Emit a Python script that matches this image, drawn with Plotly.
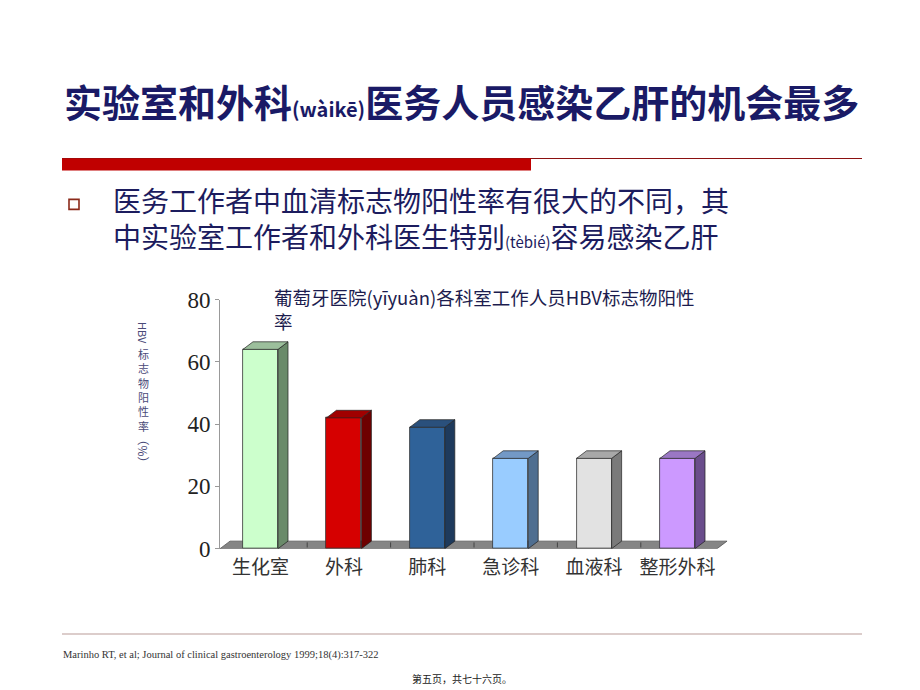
import plotly.graph_objects as go

# ---- data ----
categories = ["生化室", "外科", "肺科", "急诊科", "血液科", "整形外科"]
values = [64, 42, 39, 29, 29, 29]
front_colors = ["#CCFFCC", "#D60000", "#2F6299", "#99CCFF", "#E2E2E2", "#CC99FF"]
side_colors = ["#6A8A6A", "#6E0000", "#1E3A5C", "#4F6E90", "#7A7A7A", "#6A4D8C"]
top_colors = ["#9CBF9C", "#A00000", "#2A507C", "#7399C6", "#A8A8A8", "#9A77C4"]
y_ticks = [0, 20, 40, 60, 80]

W, H = 920, 690
def px(x):
    return x / W
def py(y):
    yy = (y - 10) / 0.967
    return 1 - yy / H

BAR_W = 0.42
DX = 0.12   # depth offset in category units
DY = 2.43   # depth offset in value units

fig = go.Figure()

# front faces
fig.add_trace(go.Bar(
    x=list(range(len(categories))), y=values, width=BAR_W,
    marker=dict(color=front_colors, line=dict(color="#333333", width=0.8)),
    showlegend=False, hoverinfo="skip"))

# side and top faces
for i, v in enumerate(values):
    r = i + BAR_W / 2
    l = i - BAR_W / 2
    fig.add_trace(go.Scatter(
        x=[r, r + DX, r + DX, r, r], y=[0, DY, v + DY, v, 0],
        fill="toself", fillcolor=side_colors[i], mode="lines",
        line=dict(color="#222222", width=0.7), showlegend=False, hoverinfo="skip"))
    fig.add_trace(go.Scatter(
        x=[l, l + DX, r + DX, r, l], y=[v, v + DY, v + DY, v, v],
        fill="toself", fillcolor=top_colors[i], mode="lines",
        line=dict(color="#222222", width=0.7), showlegend=False, hoverinfo="skip"))

x0 = -0.4856
x1 = 5.474
shapes = []
# floor
shapes.append(dict(type="path", xref="x", yref="y", layer="below",
                   path=f"M {x0},0 L {x1},0 L {x1+DX},{DY} L {x0+DX},{DY} Z",
                   fillcolor="#858585", line=dict(color="#555555", width=0.8)))
for k in range(len(categories) - 1):
    xm = k + 0.5 + DX / 2
    shapes.append(dict(type="line", xref="x", yref="y", layer="below",
                       x0=xm, x1=xm, y0=0.4, y1=DY - 0.4,
                       line=dict(color="#444444", width=1)))
# decorative slide elements
shapes.append(dict(type="line", xref="paper", yref="paper",
                   x0=px(62), x1=px(862), y0=py(157), y1=py(157),
                   line=dict(color="#8B1010", width=1)))
shapes.append(dict(type="rect", xref="paper", yref="paper",
                   x0=px(62), x1=px(531), y0=py(157), y1=py(169),
                   fillcolor="#C00000", line=dict(width=0)))
shapes.append(dict(type="line", xref="paper", yref="paper",
                   x0=px(62), x1=px(862), y0=py(634), y1=py(634),
                   line=dict(color="#DCCDCB", width=2)))
shapes.append(dict(type="rect", xref="paper", yref="paper",
                   x0=px(69), x1=px(79), y0=py(198), y1=py(208),
                   fillcolor="white", line=dict(color="#8B2A1A", width=1.6)))

navy = "#1A1A66"
annotations = [
    dict(text="实验室和外科<span style='font-size:20px'>(wàikē)</span>医务人员感染乙肝的机会最多",
         x=px(461), y=py(99), xref="paper", yref="paper", showarrow=False,
         xanchor="center", yanchor="middle",
         font=dict(family="Noto Sans CJK SC", size=38, color=navy, weight="bold")),
    dict(text="医务工作者中血清标志物阳性率有很大的不同，其<br>"
              "中实验室工作者和外科医生特别<span style='font-size:15px'>(tèbié)</span>容易感染乙肝",
         x=px(111), y=py(217), xref="paper", yref="paper", showarrow=False,
         xanchor="left", yanchor="middle", align="left",
         font=dict(family="Noto Sans CJK SC", size=28, color="#1C1C5E")),
    dict(text="葡萄牙医院(yīyuàn)各科室工作人员HBV标志物阳性<br>率",
         x=px(272), y=py(281), xref="paper", yref="paper", showarrow=False,
         xanchor="left", yanchor="top", align="left",
         font=dict(family="Noto Sans CJK SC", size=18.5, color="#1C1C4E")),
    dict(text="HBV", x=px(143), y=py(332), xref="paper", yref="paper", showarrow=False,
         textangle=90, xanchor="center", yanchor="middle",
         font=dict(family="Noto Sans CJK SC", size=11, color="#4A4A78")),
    dict(text="标<br>志<br>物<br>阳<br>性<br>率", x=px(143), y=py(389), xref="paper", yref="paper",
         showarrow=False, xanchor="center", yanchor="middle",
         font=dict(family="Noto Sans CJK SC", size=11, color="#4A4A78")),
    dict(text="（%）", x=px(143), y=py(450), xref="paper", yref="paper", showarrow=False,
         textangle=90, xanchor="center", yanchor="middle",
         font=dict(family="Noto Sans CJK SC", size=12, color="#4A4A78")),
    dict(text="Marinho RT, et al; Journal of clinical gastroenterology 1999;18(4):317-322",
         x=px(61), y=py(655), xref="paper", yref="paper", showarrow=False,
         xanchor="left", yanchor="middle",
         font=dict(family="Liberation Serif", size=10.5, color="#333333")),
    dict(text="第五页，共七十六页。", x=px(462), y=py(679), xref="paper", yref="paper",
         showarrow=False, xanchor="center", yanchor="middle",
         font=dict(family="Noto Sans CJK SC", size=10, color="#222222")),
]

fig.update_layout(
    width=W, height=H, margin=dict(l=0, r=0, t=0, b=0),
    paper_bgcolor="white", plot_bgcolor="rgba(0,0,0,0)",
    shapes=shapes, annotations=annotations, showlegend=False, bargap=0,
    xaxis=dict(domain=[px(220), px(730)], range=[x0, x0 + 510 / 83.4],
               tickmode="array", tickvals=list(range(len(categories))), ticktext=categories,
               showgrid=False, zeroline=False, showline=False, ticks="",
               ticklabelstandoff=5,
               tickfont=dict(family="Noto Sans CJK SC", size=19, color="#333333")),
    yaxis=dict(domain=[py(548.5), py(298.5)], range=[0, 80],
               tickmode="array", tickvals=y_ticks,
               showgrid=False, zeroline=False, showline=True, linecolor="#999999", linewidth=1,
               ticks="outside", ticklen=4, tickcolor="#999999",
               tickfont=dict(family="Liberation Serif", size=23, color="#222222")),
)

fig.write_html("out.html")
